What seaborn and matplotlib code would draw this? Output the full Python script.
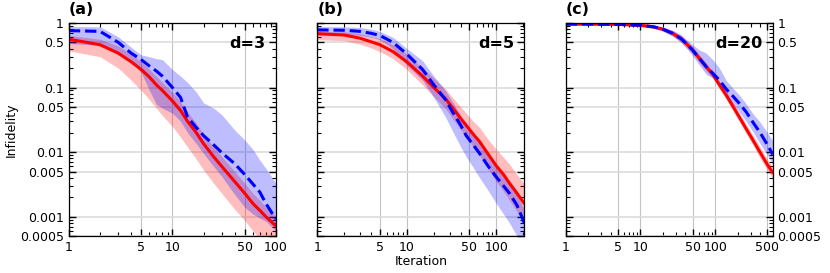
import numpy as np
import pandas as pd
import matplotlib
matplotlib.use("Agg")
import matplotlib.pyplot as plt
import matplotlib.ticker as mticker
import seaborn as sns

#%% data (iteration vs infidelity, mean and band)

# panel (a): d=3
it_a = [1, 2, 3, 4, 5, 6, 7, 8, 10, 12, 14, 17, 20, 25, 30, 40, 50, 60, 70, 80, 100]
red_a = [0.56, 0.46, 0.34, 0.25, 0.19, 0.145, 0.11, 0.09, 0.062, 0.044, 0.03, 0.02, 0.0135,
         0.0085, 0.006, 0.0035, 0.0023, 0.0016, 0.00125, 0.001, 0.00072]
red_a_lo = [0.37, 0.3, 0.2, 0.13, 0.09, 0.065, 0.048, 0.037, 0.025, 0.017, 0.012, 0.0078, 0.0053,
            0.0033, 0.0023, 0.0013, 0.00088, 0.0006, 0.00046, 0.00037, 0.00027]
red_a_hi = [0.64, 0.56, 0.44, 0.33, 0.25, 0.19, 0.15, 0.12, 0.085, 0.06, 0.042, 0.028, 0.019,
            0.012, 0.0085, 0.005, 0.0033, 0.0023, 0.0018, 0.0014, 0.001]
blue_a = [0.76, 0.74, 0.5, 0.34, 0.27, 0.215, 0.18, 0.15, 0.10, 0.07, 0.035, 0.024, 0.018,
          0.013, 0.0098, 0.0066, 0.0045, 0.0032, 0.0024, 0.0016, 0.00092]
blue_a_lo = [0.48, 0.45, 0.33, 0.25, 0.17, 0.09, 0.055, 0.048, 0.04, 0.03, 0.02, 0.0135, 0.0095,
             0.006, 0.0042, 0.0022, 0.0014, 0.0011, 0.00095, 0.00085, 0.0006]
blue_a_hi = [0.88, 0.87, 0.61, 0.42, 0.32, 0.30, 0.28, 0.27, 0.19, 0.15, 0.12, 0.085, 0.058,
             0.048, 0.038, 0.022, 0.0154, 0.011, 0.0075, 0.0056, 0.0033]

# panel (b): d=5
it_b = [1, 2, 3, 4, 5, 7, 10, 15, 20, 27, 33, 40, 46, 55, 65, 80, 100, 120, 140, 170, 205]
red_b = [0.68, 0.65, 0.58, 0.51, 0.46, 0.36, 0.25, 0.15, 0.10, 0.067, 0.047, 0.033, 0.026, 0.019,
         0.0145, 0.0095, 0.0061, 0.0045, 0.0033, 0.0023, 0.0016]
red_b_lo = [0.55, 0.53, 0.47, 0.41, 0.36, 0.28, 0.19, 0.11, 0.072, 0.047, 0.032, 0.022, 0.017,
            0.012, 0.0088, 0.0056, 0.0035, 0.0025, 0.0018, 0.0012, 0.0008]
red_b_hi = [0.74, 0.73, 0.68, 0.62, 0.57, 0.46, 0.33, 0.2, 0.14, 0.095, 0.068, 0.05, 0.04, 0.03,
            0.024, 0.016, 0.011, 0.0083, 0.0065, 0.0045, 0.0032]
blue_b = [0.78, 0.77, 0.74, 0.69, 0.64, 0.5, 0.33, 0.19, 0.11, 0.065, 0.04, 0.026, 0.018, 0.013,
          0.0095, 0.0062, 0.0041, 0.003, 0.0023, 0.0015, 0.0008]
blue_b_lo = [0.66, 0.67, 0.64, 0.6, 0.55, 0.4, 0.22, 0.13, 0.07, 0.035, 0.02, 0.012, 0.0085,
             0.0058, 0.004, 0.0026, 0.0016, 0.0011, 0.0008, 0.0005, 0.00028]
blue_b_hi = [0.88, 0.87, 0.85, 0.8, 0.74, 0.6, 0.4, 0.26, 0.15, 0.09, 0.057, 0.037, 0.028, 0.02,
             0.0145, 0.0095, 0.0064, 0.0045, 0.0034, 0.0022, 0.0013]

# panel (c): d=20
it_c = [1, 2, 5, 10, 15, 20, 27, 35, 41, 50, 62, 76, 93, 114, 140, 170, 210, 260, 317, 400, 500, 590]
red_c = [0.96, 0.96, 0.95, 0.92, 0.87, 0.8, 0.69, 0.57, 0.48, 0.38, 0.28, 0.21, 0.16, 0.11,
         0.077, 0.053, 0.035, 0.023, 0.0157, 0.0099, 0.0064, 0.0048]
red_c_lo = [0.93, 0.93, 0.92, 0.88, 0.82, 0.74, 0.62, 0.5, 0.42, 0.33, 0.24, 0.18, 0.14, 0.095,
            0.066, 0.045, 0.03, 0.0195, 0.0132, 0.0081, 0.0052, 0.0039]
red_c_hi = [0.99, 0.99, 0.98, 0.96, 0.92, 0.86, 0.76, 0.64, 0.54, 0.43, 0.32, 0.24, 0.18, 0.125,
            0.088, 0.061, 0.041, 0.027, 0.0185, 0.0119, 0.0077, 0.0058]
blue_c = [0.96, 0.96, 0.95, 0.92, 0.87, 0.8, 0.69, 0.57, 0.48, 0.38, 0.28, 0.21, 0.166, 0.13,
          0.095, 0.075, 0.057, 0.042, 0.0295, 0.02, 0.013, 0.0092]
blue_c_lo = [0.93, 0.93, 0.92, 0.88, 0.83, 0.75, 0.63, 0.5, 0.41, 0.31, 0.22, 0.16, 0.14, 0.105,
             0.075, 0.058, 0.042, 0.03, 0.021, 0.0135, 0.009, 0.0065]
blue_c_hi = [0.99, 0.99, 0.98, 0.96, 0.92, 0.86, 0.77, 0.66, 0.56, 0.46, 0.38, 0.34, 0.27, 0.2,
             0.13, 0.1, 0.077, 0.056, 0.04, 0.029, 0.02, 0.015]

panel_tags = ['(a)', '(b)', '(c)']
d_labels = ['d=3', 'd=5', 'd=20']
x_max = [100, 205, 590]
x_ticks = [[1, 5, 10, 50, 100], [1, 5, 10, 50, 100], [1, 5, 10, 50, 100, 500]]
y_ticks = [1, 0.5, 0.1, 0.05, 0.01, 0.005, 0.001, 0.0005]
y_ticklabels = ['1', '0.5', '0.1', '0.05', '0.01', '0.005', '0.001', '0.0005']

#%% plot

sns.set_style("ticks")
plt.rcParams['font.family'] = ['DejaVu Sans']
plt.rcParams['font.size'] = 9
for k in ['text.color', 'axes.labelcolor', 'xtick.color', 'ytick.color', 'axes.edgecolor']:
    plt.rcParams[k] = 'black'

panels = [
    (it_a, red_a, red_a_lo, red_a_hi, blue_a, blue_a_lo, blue_a_hi),
    (it_b, red_b, red_b_lo, red_b_hi, blue_b, blue_b_lo, blue_b_hi),
    (it_c, red_c, red_c_lo, red_c_hi, blue_c, blue_c_lo, blue_c_hi),
]

fig, axes = plt.subplots(1, 3, figsize=(8.3, 2.73), dpi=100)
fig.subplots_adjust(left=0.083, right=0.931, bottom=0.135, top=0.916, wspace=0.2)

for i, ax in enumerate(axes):
    it, r, r_lo, r_hi, b, b_lo, b_hi = panels[i]
    df = pd.DataFrame({'it': it, 'red': r, 'blue': b})

    ax.fill_between(it, r_lo, r_hi, color='red', alpha=0.26, lw=0)
    ax.fill_between(it, b_lo, b_hi, color='blue', alpha=0.26, lw=0)
    sns.lineplot(data=df, x='it', y='red', ax=ax, color='red', lw=2.2)
    sns.lineplot(data=df, x='it', y='blue', ax=ax, color='blue', lw=2.2, linestyle='--')

    ax.set_xscale('log')
    ax.set_yscale('log')
    ax.set_xlim(1, x_max[i])
    ax.set_ylim(0.0005, 1)
    ax.set_xticks(x_ticks[i])
    ax.set_xticklabels([str(t) for t in x_ticks[i]])
    ax.set_yticks(y_ticks)
    ax.set_yticklabels(y_ticklabels)
    ax.xaxis.set_minor_locator(mticker.LogLocator(base=10, subs=np.arange(2, 10), numticks=30))
    ax.yaxis.set_minor_locator(mticker.LogLocator(base=10, subs=np.arange(2, 10), numticks=30))
    ax.xaxis.set_minor_formatter(mticker.NullFormatter())
    ax.yaxis.set_minor_formatter(mticker.NullFormatter())

    ax.grid(axis='y', which='major', color='#dcdcdc', lw=1.2)
    ax.grid(axis='x', which='major', color='#c4c4c4', lw=0.8)
    ax.set_axisbelow(True)
    ax.tick_params(which='both', direction='in', bottom=True, left=True, top=True, right=True,
                   color='black')
    ax.tick_params(which='major', length=5, width=1, labelsize=9)
    ax.tick_params(which='minor', length=3, width=0.8)
    for s in ax.spines.values():
        s.set_visible(True)
        s.set_color('black')
        s.set_linewidth(0.9)

    ax.set_xlabel('')
    ax.set_ylabel('')
    ax.text(0.0, 1.03, panel_tags[i], transform=ax.transAxes, fontsize=11.5,
            fontweight='bold', ha='left', va='bottom')
    ax.text(0.95, 0.94, d_labels[i], transform=ax.transAxes, fontsize=11.5,
            fontweight='bold', ha='right', va='top')

axes[0].set_ylabel('Infidelity', fontsize=9, labelpad=2)
axes[1].set_xlabel('Iteration', fontsize=9, labelpad=1)
axes[1].tick_params(labelleft=False)
axes[2].tick_params(labelleft=False, labelright=True)

plt.savefig('out.png', dpi=100)
